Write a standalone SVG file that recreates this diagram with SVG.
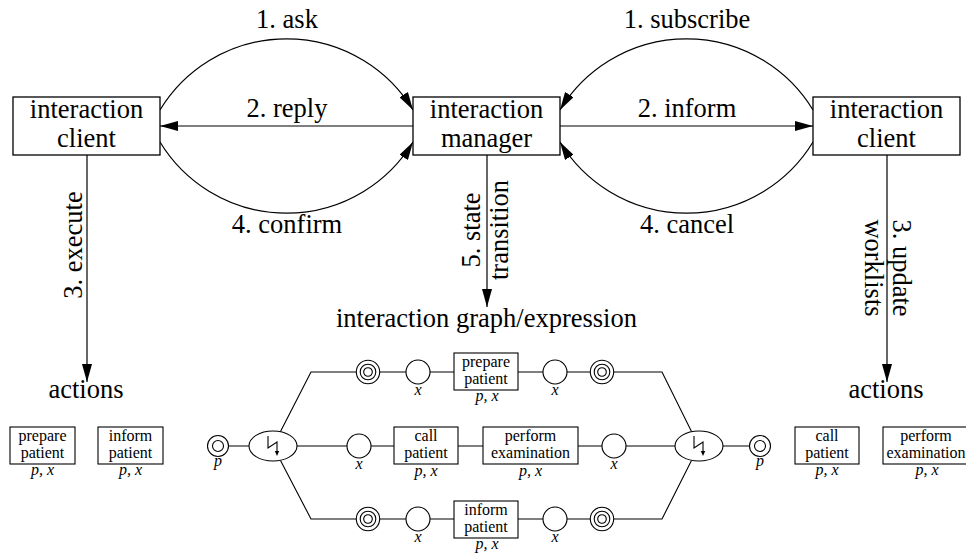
<svg xmlns="http://www.w3.org/2000/svg" width="966" height="554" viewBox="0 0 966 554" font-family="Liberation Serif">
<style>
.box{fill:#fff;stroke:#000;stroke-width:1.3}
.sbox{fill:#fff;stroke:#000;stroke-width:1.1}
.pl{fill:#fff;stroke:#000;stroke-width:1.1}
.ln{fill:none;stroke:#000;stroke-width:1.2}
.gl{fill:none;stroke:#000;stroke-width:1.1}
</style>
<defs>
<marker id="ah" viewBox="0 0 18 10" refX="18" refY="5" markerWidth="18" markerHeight="10" markerUnits="userSpaceOnUse" orient="auto">
<path d="M0,0 L18,5 L0,10 z" fill="#000"/>
</marker>
<g id="dbl"><circle r="10.5" class="pl"/><circle r="5.5" class="pl"/></g>
<g id="tri"><circle r="11.7" class="pl"/><circle r="7.8" class="pl"/><circle r="4.3" class="pl"/></g>
<g id="bolt"><path d="M-5,-10 V2 L4,-4 V6" fill="none" stroke="#000" stroke-width="1.1"/><path d="M1.8,5 L4,10 L6.2,5 z" fill="#000"/></g>
</defs>
<rect width="966" height="554" fill="#fff"/>

<g id="connectors">
<path class="ln" d="M160,110 A148,148 0 0 1 413,110" marker-end="url(#ah)"/>
<path class="ln" d="M413,126 H160" marker-end="url(#ah)"/>
<path class="ln" d="M160,142 A148,148 0 0 0 413,142" marker-end="url(#ah)"/>
<path class="ln" d="M813,110 A148,148 0 0 0 560,110" marker-end="url(#ah)"/>
<path class="ln" d="M560,126 H813" marker-end="url(#ah)"/>
<path class="ln" d="M813,142 A148,148 0 0 1 560,142" marker-end="url(#ah)"/>
<path class="ln" d="M87,155 V382" marker-end="url(#ah)"/>
<path class="ln" d="M487,155 V307" marker-end="url(#ah)"/>
<path class="ln" d="M887,155 V382" marker-end="url(#ah)"/>
<path class="gl" d="M228.5,446 H249 M297,446 H347 M371,446 H394 M458,446 H483 M578,446 H602 M626,446 H675 M723,446 H749.5"/>
<path class="gl" d="M280.5,431.5 L311,372 H356.3 M379.7,372 H406 M430,372 H454 M518,372 H543 M567,372 H590.3 M613.7,372 H662 L691.5,431.5"/>
<path class="gl" d="M280.5,460.5 L311,519 H356.3 M379.7,519 H406 M430,519 H454 M518,519 H543 M567,519 H590.3 M613.7,519 H662 L691.5,460.5"/>
</g>

<g id="labels" font-size="26.5" text-anchor="middle" fill="#000">
<text font-family="Liberation Serif" x="287" y="28">1. ask</text>
<text font-family="Liberation Serif" x="287" y="117">2. reply</text>
<text font-family="Liberation Serif" x="287" y="233">4. confirm</text>
<text font-family="Liberation Serif" x="687" y="28">1. subscribe</text>
<text font-family="Liberation Serif" x="687" y="117">2. inform</text>
<text font-family="Liberation Serif" x="687" y="233">4. cancel</text>
<text font-family="Liberation Serif" transform="translate(82,245) rotate(-90)">3. execute</text>
<text font-family="Liberation Serif" transform="translate(480,230) rotate(-90)">5. state</text>
<text font-family="Liberation Serif" transform="translate(508,230) rotate(-90)">transition</text>
<text font-family="Liberation Serif" transform="translate(893,268) rotate(90)">3. update</text>
<text font-family="Liberation Serif" transform="translate(865,268) rotate(90)">worklists</text>
</g>

<g id="client-left" font-size="26.5" text-anchor="middle">
<rect class="box" x="13" y="97" width="147" height="58"/>
<text font-family="Liberation Serif" x="86.5" y="118">interaction</text>
<text font-family="Liberation Serif" x="86.5" y="147">client</text>
</g>
<g id="manager" font-size="26.5" text-anchor="middle">
<rect class="box" x="413" y="97" width="147" height="58"/>
<text font-family="Liberation Serif" x="486.5" y="118">interaction</text>
<text font-family="Liberation Serif" x="486.5" y="147">manager</text>
</g>
<g id="client-right" font-size="26.5" text-anchor="middle">
<rect class="box" x="813" y="97" width="147" height="58"/>
<text font-family="Liberation Serif" x="886.5" y="118">interaction</text>
<text font-family="Liberation Serif" x="886.5" y="147">client</text>
</g>

<g id="actions-left" font-size="16" text-anchor="middle">
<text font-family="Liberation Serif" font-size="26.5" x="86" y="398">actions</text>
<rect class="sbox" x="10" y="427" width="65" height="37"/>
<text font-family="Liberation Serif" x="42.5" y="441">prepare</text>
<text font-family="Liberation Serif" x="42.5" y="458">patient</text>
<text font-family="Liberation Serif" font-style="italic" x="42.5" y="475">p, x</text>
<rect class="sbox" x="98" y="427" width="65" height="37"/>
<text font-family="Liberation Serif" x="130.5" y="441">inform</text>
<text font-family="Liberation Serif" x="130.5" y="458">patient</text>
<text font-family="Liberation Serif" font-style="italic" x="130.5" y="475">p, x</text>
</g>

<g id="actions-right" font-size="16" text-anchor="middle">
<text font-family="Liberation Serif" font-size="26.5" x="886" y="398">actions</text>
<rect class="sbox" x="795" y="427" width="64" height="37"/>
<text font-family="Liberation Serif" x="827" y="441">call</text>
<text font-family="Liberation Serif" x="827" y="458">patient</text>
<text font-family="Liberation Serif" font-style="italic" x="827" y="475">p, x</text>
<rect class="sbox" x="883" y="427" width="95" height="37"/>
<text font-family="Liberation Serif" x="926" y="441">perform</text>
<text font-family="Liberation Serif" x="926" y="458">examination</text>
<text font-family="Liberation Serif" font-style="italic" x="927" y="475">p, x</text>
</g>

<g id="graph-title" font-size="26.5" text-anchor="middle">
<text font-family="Liberation Serif" x="486.5" y="327">interaction graph/expression</text>
</g>

<g id="graph" font-size="16" text-anchor="middle">
<g id="p-start"><use href="#dbl" x="218" y="446"/><text font-family="Liberation Serif" font-style="italic" x="218" y="466">p</text></g>
<g id="split"><ellipse class="pl" cx="273" cy="446" rx="24" ry="15"/><use href="#bolt" x="273" y="446"/></g>
<g id="join"><ellipse class="pl" cx="699" cy="446" rx="24" ry="15"/><use href="#bolt" x="699" y="446"/></g>
<g id="p-end"><use href="#dbl" x="760" y="446"/><text font-family="Liberation Serif" font-style="italic" x="760" y="466">p</text></g>

<g id="up-t1"><use href="#tri" x="368" y="372"/></g>
<g id="up-x1"><circle class="pl" cx="418" cy="372" r="12"/><text font-family="Liberation Serif" font-style="italic" x="418" y="395">x</text></g>
<g id="up-prepare"><rect class="sbox" x="454" y="353" width="64" height="37"/>
<text font-family="Liberation Serif" x="486" y="367">prepare</text>
<text font-family="Liberation Serif" x="486" y="384">patient</text>
<text font-family="Liberation Serif" font-style="italic" x="487" y="401">p, x</text></g>
<g id="up-x2"><circle class="pl" cx="555" cy="372" r="12"/><text font-family="Liberation Serif" font-style="italic" x="555" y="395">x</text></g>
<g id="up-t2"><use href="#tri" x="602" y="372"/></g>

<g id="mid-x1"><circle class="pl" cx="359" cy="446" r="12"/><text font-family="Liberation Serif" font-style="italic" x="359" y="469">x</text></g>
<g id="mid-call"><rect class="sbox" x="394" y="427" width="64" height="37"/>
<text font-family="Liberation Serif" x="426" y="441">call</text>
<text font-family="Liberation Serif" x="426" y="458">patient</text>
<text font-family="Liberation Serif" font-style="italic" x="426" y="476">p, x</text></g>
<g id="mid-perform"><rect class="sbox" x="483" y="427" width="95" height="37"/>
<text font-family="Liberation Serif" x="530.5" y="441">perform</text>
<text font-family="Liberation Serif" x="530.5" y="458">examination</text>
<text font-family="Liberation Serif" font-style="italic" x="530.5" y="476">p, x</text></g>
<g id="mid-x2"><circle class="pl" cx="614" cy="446" r="12"/><text font-family="Liberation Serif" font-style="italic" x="614" y="469">x</text></g>

<g id="lo-t1"><use href="#tri" x="368" y="519"/></g>
<g id="lo-x1"><circle class="pl" cx="418" cy="519" r="12"/><text font-family="Liberation Serif" font-style="italic" x="418" y="542">x</text></g>
<g id="lo-inform"><rect class="sbox" x="454" y="501" width="64" height="37"/>
<text font-family="Liberation Serif" x="486" y="515">inform</text>
<text font-family="Liberation Serif" x="486" y="532">patient</text>
<text font-family="Liberation Serif" font-style="italic" x="487" y="549">p, x</text></g>
<g id="lo-x2"><circle class="pl" cx="555" cy="519" r="12"/><text font-family="Liberation Serif" font-style="italic" x="555" y="542">x</text></g>
<g id="lo-t2"><use href="#tri" x="602" y="519"/></g>
</g>
</svg>
